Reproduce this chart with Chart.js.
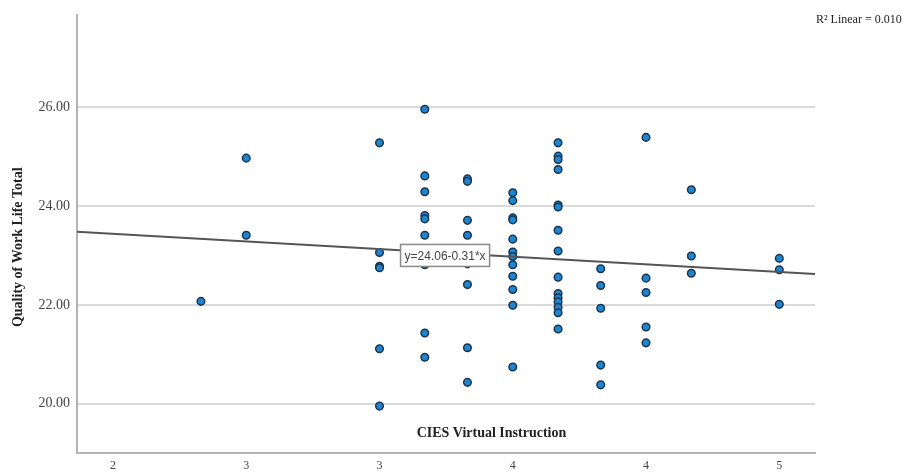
<!DOCTYPE html>
<html lang="en">
<head>
  <meta charset="UTF-8">
  <title>Quality of Work Life vs CIES Virtual Instruction</title>
  <script src="https://cdn.jsdelivr.net/npm/chart.js"></script>
  <style>
    * { margin: 0; padding: 0; box-sizing: border-box; }
    body { background: #fff; width: 910px; height: 475px; overflow: hidden; }
    canvas { display: block; }
  </style>
</head>
<body>
  <canvas id="scatter" width="910" height="475"></canvas>

  <script>
    // x levels (CIES Virtual Instruction) and the QWL totals observed at each
    const xLevels = [2.33, 2.5, 3.0, 3.17, 3.33, 3.5, 3.67, 3.83, 4.0, 4.17, 4.5];
    const qwlAtLevel = [
      [22.07],
      [24.97, 23.41],
      [25.28, 23.06, 22.78, 22.75, 21.11, 19.95],
      [25.96, 24.61, 24.29, 23.81, 23.74, 23.41, 22.81, 21.43, 20.94],
      [24.55, 24.50, 23.71, 23.41, 22.83, 22.41, 21.13, 20.43],
      [24.27, 24.11, 23.76, 23.72, 23.33, 23.07, 22.98, 22.81, 22.58, 22.31, 21.99, 20.74],
      [25.28, 25.01, 24.94, 24.74, 24.02, 23.98, 23.51, 23.09, 22.56, 22.23, 22.14, 22.06, 21.95, 21.84, 21.51],
      [22.73, 22.39, 21.93, 20.78, 20.38],
      [25.39, 22.54, 22.25, 21.55, 21.23],
      [24.33, 22.99, 22.64],
      [22.94, 22.71, 22.01]
    ];

    const xTickValues = [2, 2.5, 3, 3.5, 4, 4.5];
    const xTickLabels = ['2', '3', '3', '4', '4', '5'];
    const yTickValues = [20, 22, 24, 26];

    const fitIntercept = 24.06;
    const fitSlope = -0.31;
    const fitLabel = 'y=24.06-0.31*x';
    const r2Label = 'R\u00B2 Linear = 0.010';

    const X_MIN = 1.865, X_MAX = 4.634;
    const Y_MIN = 19.0, Y_MAX = 27.86;

    const points = [];
    xLevels.forEach((x, i) => {
      qwlAtLevel[i].forEach(y => points.push({ x: x, y: y }));
    });

    const fitLine = [
      { x: X_MIN, y: fitIntercept + fitSlope * X_MIN },
      { x: X_MAX, y: fitIntercept + fitSlope * X_MAX }
    ];

    const serif = "'Liberation Serif', 'DejaVu Serif', serif";
    const sans = "'Liberation Sans', Arial, sans-serif";

    // SPSS-style annotations: rotated y title, x title inside the plot, fit label, R2 note
    const annotations = {
      id: 'annotations',
      afterDatasetsDraw(chart) {
        const ctx = chart.ctx;
        const xs = chart.scales.x, ys = chart.scales.y;
        const area = chart.chartArea;

        // fit equation box
        ctx.save();
        ctx.font = '12px ' + sans;
        const cx = xs.getPixelForValue(3.246);
        const cy = ys.getPixelForValue(23.0);
        const w = ctx.measureText(fitLabel).width + 8;
        const h = 22;
        ctx.fillStyle = '#fff';
        ctx.fillRect(cx - w / 2, cy - h / 2, w, h);
        ctx.strokeStyle = '#8a8a8a';
        ctx.lineWidth = 1.5;
        ctx.strokeRect(cx - w / 2, cy - h / 2, w, h);
        ctx.fillStyle = '#444';
        ctx.textAlign = 'center';
        ctx.textBaseline = 'middle';
        ctx.fillText(fitLabel, cx, cy + 1);

        // x title sits inside the plot, just above the axis
        ctx.font = 'bold 14px ' + serif;
        ctx.fillStyle = '#222';
        ctx.fillText('CIES Virtual Instruction', xs.getPixelForValue(3.42), ys.getPixelForValue(19.4));

        // y title
        ctx.translate(18, (area.top + area.bottom) / 2 + 13);
        ctx.rotate(-Math.PI / 2);
        ctx.fillText('Quality of Work Life Total', 0, 0);
        ctx.restore();

        // R2 note, top right
        ctx.save();
        ctx.font = '12px ' + serif;
        ctx.fillStyle = '#222';
        ctx.textAlign = 'left';
        ctx.textBaseline = 'middle';
        ctx.fillText(r2Label, area.right + 1, 20);
        ctx.restore();
      }
    };

    new Chart(document.getElementById('scatter'), {
      type: 'scatter',
      data: {
        datasets: [
          {
            label: 'Linear fit',
            data: fitLine,
            showLine: true,
            borderColor: '#555',
            borderWidth: 2,
            pointRadius: 0,
            fill: false
          },
          {
            label: 'Quality of Work Life Total',
            data: points,
            pointRadius: 3.8,
            pointBackgroundColor: '#1e86d0',
            pointBorderColor: '#1b3550',
            pointBorderWidth: 1.5
          }
        ]
      },
      options: {
        responsive: false,
        animation: false,
        devicePixelRatio: 1,
        layout: { padding: { top: 12, right: 95, left: 0, bottom: 0 } },
        plugins: {
          legend: { display: false },
          tooltip: { enabled: false }
        },
        scales: {
          x: {
            type: 'linear',
            min: X_MIN,
            max: X_MAX,
            afterBuildTicks: s => { s.ticks = xTickValues.map(v => ({ value: v })); },
            afterFit: s => { s.height = 22; },
            grid: { display: false, drawTicks: false },
            border: { display: true, color: '#b4b4b4', width: 2 },
            ticks: {
              padding: 6,
              color: '#444',
              font: { family: serif, size: 12 },
              callback: (v, i) => xTickLabels[i]
            }
          },
          y: {
            type: 'linear',
            min: Y_MIN,
            max: Y_MAX,
            afterBuildTicks: s => { s.ticks = yTickValues.map(v => ({ value: v })); },
            afterFit: s => { s.width = 77; },
            grid: { color: '#dadada', lineWidth: 2, drawTicks: false },
            border: { display: true, color: '#b4b4b4', width: 2 },
            ticks: {
              padding: 7,
              color: '#444',
              font: { family: serif, size: 14 },
              callback: v => Number(v).toFixed(2)
            }
          }
        }
      },
      plugins: [annotations]
    });
  </script>
</body>
</html>
